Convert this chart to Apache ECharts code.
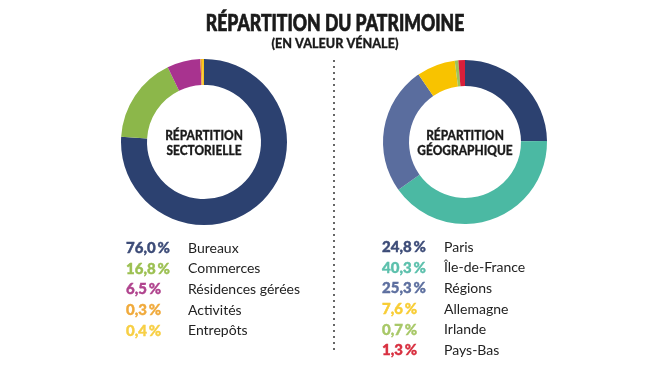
<!DOCTYPE html>
<html><head><meta charset="utf-8">
<script src="https://cdn.jsdelivr.net/npm/echarts@6/dist/echarts.min.js"></script>
<style>html,body{margin:0;padding:0;background:#fff}#c{width:670px;height:366px}</style>
</head><body><div id="c"></div>
<script>
const titleText = 'RÉPARTITION DU PATRIMOINE';
const subtitleText = '(EN VALEUR VÉNALE)';
const sectorCenter = 'RÉPARTITION\nSECTORIELLE';
const geoCenter = 'RÉPARTITION\nGÉOGRAPHIQUE';

const sectorNames = ['Bureaux', 'Commerces', 'Résidences gérées', 'Activités', 'Entrepôts'];
const sectorValues = [76.0, 16.8, 6.5, 0.3, 0.4];
const sectorColors = ['#2c4170', '#8cb74a', '#a8338f', '#f0a22e', '#f7c61a'];
const sectorTextColors = ['#3d4c78', '#9cc052', '#b0448e', '#f0aa3c', '#f7cf45'];

const geoNames = ['Paris', 'Île-de-France', 'Régions', 'Allemagne', 'Irlande', 'Pays-Bas'];
const geoValues = [24.8, 40.3, 25.3, 7.6, 0.7, 1.3];
const geoColors = ['#2c4170', '#4bb9a3', '#5a6d9e', '#f8c300', '#9dc45a', '#d81f3a'];
const geoTextColors = ['#3d4c78', '#5cc0ac', '#5d6f9f', '#f8cd35', '#a8c868', '#d83040'];

const fmt = v => v.toFixed(1).replace('.', ',') + '\u2009%';
const boldFont = 'Lato, "Noto Sans", sans-serif';

function makeLegend(names, values, textColors, left, top) {
  const rich = { n: { color: '#222', fontSize: 14, fontFamily: 'Lato, "Noto Sans", sans-serif' } };
  names.forEach((n, i) => {
    rich['p' + i] = { color: textColors[i], fontSize: 15, fontWeight: 900, fontFamily: boldFont, width: 62,
                      textBorderColor: textColors[i], textBorderWidth: 0.4 };
  });
  return {
    orient: 'vertical', left: left, top: top, icon: 'none', itemGap: 5, itemWidth: 0, itemHeight: 16,
    selectedMode: false, padding: 0,
    data: names,
    formatter: name => { const i = names.indexOf(name); return '{p' + i + '|' + fmt(values[i]) + '}{n|' + name + '}'; },
    textStyle: { rich: rich, padding: 0 }
  };
}

function condText(text, x, y, size, sx, lh, bw) {
  return {
    type: 'text', x: x, y: y, scaleX: sx, silent: true,
    style: { text: text, fill: '#1a1a1a', fontSize: size, fontWeight: 900, fontFamily: boldFont,
             stroke: '#1a1a1a', lineWidth: bw || 0,
             textAlign: 'center', textVerticalAlign: 'middle', lineHeight: lh || size }
  };
}

const chart = echarts.init(document.getElementById('c'), null, { renderer: 'canvas' });
chart.setOption({
  backgroundColor: '#fff',
  animation: false,
  legend: [
    makeLegend(sectorNames, sectorValues, sectorTextColors, 121, 240),
    makeLegend(geoNames, geoValues, geoTextColors, 377, 239)
  ],
  graphic: [
    { type: 'line', silent: true, shape: { x1: 334, y1: 60, x2: 334, y2: 354 },
      style: { stroke: '#666', lineWidth: 2, lineDash: [2, 4] } },
    condText(titleText, 335, 24, 22, 0.8, 22, 0.7),
    condText(subtitleText, 335, 43, 14, 0.9, 14, 0.3),
    condText(sectorCenter, 204, 143, 14, 0.85, 15, 0.3),
    condText(geoCenter, 465, 143, 14, 0.85, 15, 0.3)
  ],
  series: [
    {
      type: 'pie', center: [204, 142], radius: [57, 83], startAngle: 90, clockwise: true,
      label: { show: false }, labelLine: { show: false }, silent: true,
      itemStyle: { borderWidth: 0 },
      data: sectorNames.map((n, i) => ({ name: n, value: sectorValues[i], itemStyle: { color: sectorColors[i] } }))
    },
    {
      type: 'pie', center: [465, 142], radius: [56, 82], startAngle: 90, clockwise: true,
      label: { show: false }, labelLine: { show: false }, silent: true,
      itemStyle: { borderWidth: 0 },
      data: geoNames.map((n, i) => ({ name: n, value: geoValues[i], itemStyle: { color: geoColors[i] } }))
    }
  ]
});
</script></body></html>
